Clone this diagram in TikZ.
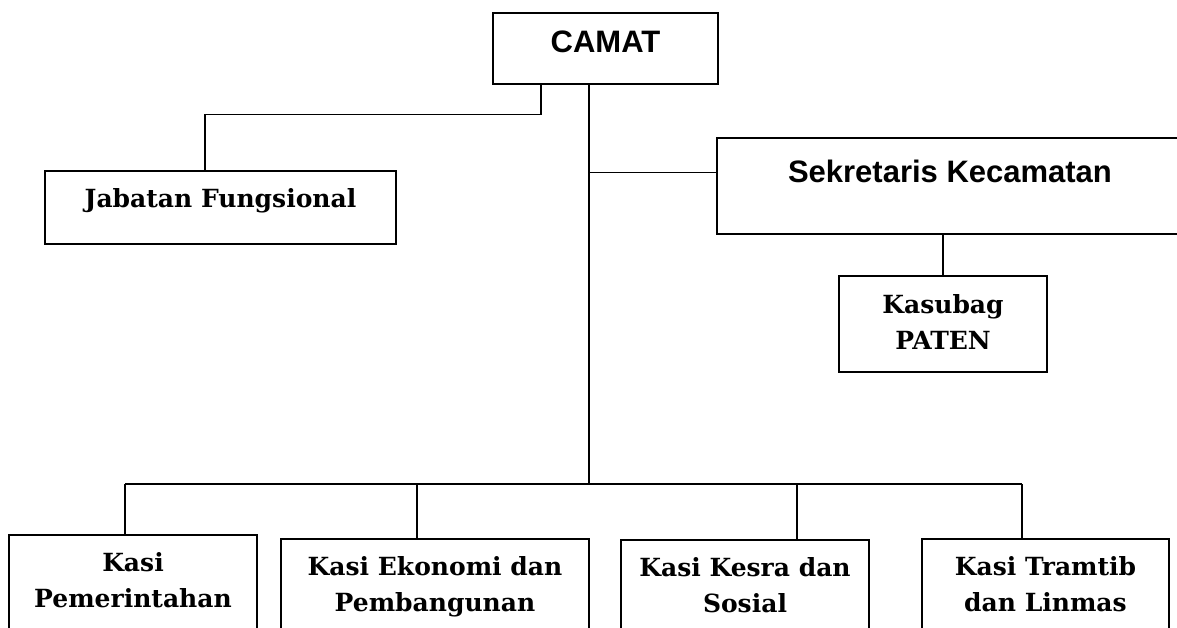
\documentclass[tikz,border=0pt]{standalone}
\usepackage{fontspec}
\setmainfont{DejaVu Serif}
\newfontfamily\arialfont{Liberation Sans}
\usepackage{tikz}
\usetikzlibrary{calc}
\tikzset{
  kotak/.style = {draw, line width=1.6pt, inner sep=0pt, anchor=north, align=center, font=\bfseries\fontsize{25}{36}\selectfont},
  kepala/.style = {kotak, font=\arialfont\bfseries\fontsize{31}{36}\selectfont},% kotak judul, huruf sans
  garis/.style = {line width=1.3pt}
}
\begin{document}
\begin{tikzpicture}[x=1pt, y=-1pt]
\useasboundingbox (0,0) rectangle (1177,628);
\clip (0,0) rectangle (1177,628);
\node [kepala, minimum width=225, text height=40, text depth=31] (camat) at (605.5,12) {CAMAT};
\node [kotak, minimum width=351, text height=36.5, text depth=36.5] (jab) at (220.5,170) {Jabatan Fungsional};
\node [kepala, minimum width=466, text height=45, text depth=51] (sek) at (950,137) {Sekretaris Kecamatan};
\node [kotak, minimum width=208, text height=73.5, text depth=22.5] (kasubag) at (943,275) {Kasubag\\PATEN};
\node [kotak, minimum width=248, text height=72.5, text depth=44] (kasi1) at (133,534) {Kasi\\Pemerintahan};
\node [kotak, minimum width=308, text height=73, text depth=44] (kasi2) at (435,538) {Kasi Ekonomi dan\\Pembangunan};
\node [kotak, minimum width=248, text height=73, text depth=44] (kasi3) at (745,539) {Kasi Kesra dan\\Sosial};
\node [kotak, minimum width=247, text height=73, text depth=44] (kasi4) at (1045.5,538) {Kasi Tramtib\\dan Linmas};

\coordinate (pusat) at (589,484);
\draw [garis] ([xshift=-64.5]camat.south) -- ++(0,30) -| ([xshift=-15.5]jab.north);
\draw [garis] ([xshift=-16.5]camat.south) -- (pusat);
\draw [garis] ([yshift=13]sek.west) -- ([yshift=13]sek.west -| pusat);
\draw [garis] (kasubag.north) -- (kasubag.north |- sek.south);
\draw [garis] ([xshift=-8]kasi1.north |- pusat) -- ([xshift=-23.5]kasi4.north |- pusat);
\foreach \n/\dx in {kasi1/-8, kasi2/-18, kasi3/52, kasi4/-23.5}
  \draw [garis] ([xshift=\dx]\n.north) -- ([xshift=\dx]\n.north |- pusat);
\end{tikzpicture}
\end{document}
